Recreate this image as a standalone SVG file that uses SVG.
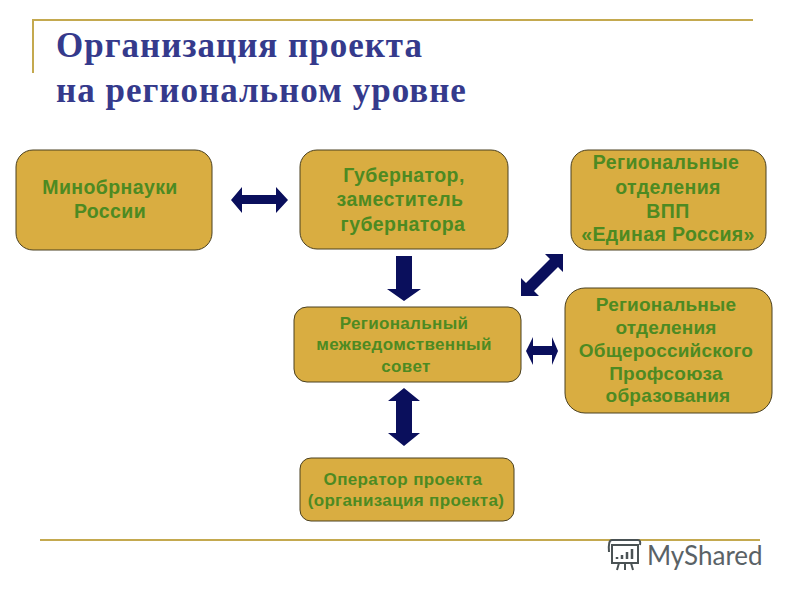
<svg xmlns="http://www.w3.org/2000/svg" width="800" height="600" viewBox="0 0 800 600">
<style>
.box{fill:#d9ad41;stroke:#4a4020;stroke-width:1}
.t{font-family:"Liberation Sans",Arial,sans-serif;font-weight:bold;fill:#4d8a22;text-anchor:middle}
.a{font-size:19.5px;letter-spacing:.4px}
.b{font-size:17px;letter-spacing:.35px}
.c{font-size:19px;letter-spacing:.2px}
.h{font-family:"Liberation Serif","Times New Roman",serif;font-weight:bold;font-size:35px;letter-spacing:1px;fill:#353a8c}
.rule{stroke:#c4a94f;stroke-width:2;fill:none}
.arr{fill:#0a0f5c}
</style>
<rect width="800" height="600" fill="#ffffff"/>
<g id="frame">
<path class="rule" d="M33 73V20H753"/>
<path class="rule" d="M40 540H760"/>
</g>
<g id="title">
<text class="h" x="56" y="57">Организация проекта</text>
<text class="h" x="56" y="102">на региональном уровне</text>
</g>
<g id="connectors">
<polygon class="arr" points="231,200 242,187 242,195 276,195 276,187 288,200 276,213 276,204 242,204 242,213"/>
<polygon class="arr" points="396,256 412,256 412,289 421,289 404,301 387,289 396,289"/>
<polygon class="arr" points="563,254 563,272 558,267 534,291 539,296 521,296 521,278 526,283 550,259 545,254"/>
<polygon class="arr" points="526,351 533,337 533,346 552,346 552,337 558,351 552,365 552,355 533,355 533,365"/>
<polygon class="arr" points="404,388 420,401 412,401 412,433 420,433 404,446 388,433 396,433 396,401 388,401"/>
</g>
<g id="minobrnauki">
<rect class="box" x="16" y="150" width="196" height="100" rx="17"/>
<text class="t a" x="110" y="194">Минобрнауки</text>
<text class="t a" x="110" y="218">России</text>
</g>
<g id="governor">
<rect class="box" x="300" y="150" width="208" height="99" rx="17"/>
<text class="t a" x="404" y="182">Губернатор,</text>
<text class="t a" x="400" y="206">заместитель</text>
<text class="t a" x="403" y="231">губернатора</text>
</g>
<g id="vpp">
<rect class="box" x="571" y="150" width="195" height="100" rx="17"/>
<text class="t a" x="666" y="169">Региональные</text>
<text class="t a" x="668" y="194">отделения</text>
<text class="t a" x="668" y="218">ВПП</text>
<text class="t a" x="668" y="241">«Единая Россия»</text>
</g>
<g id="council">
<rect class="box" x="294" y="307" width="227" height="75" rx="13"/>
<text class="t b" x="404" y="329">Региональный</text>
<text class="t b" x="404" y="350">межведомственный</text>
<text class="t b" x="406" y="372">совет</text>
</g>
<g id="union">
<rect class="box" x="565" y="288" width="207" height="125" rx="20"/>
<text class="t c" x="666" y="311">Региональные</text>
<text class="t c" x="666" y="334">отделения</text>
<text class="t c" x="666" y="357">Общероссийского</text>
<text class="t c" x="666" y="380">Профсоюза</text>
<text class="t c" x="668" y="402">образования</text>
</g>
<g id="operator">
<rect class="box" x="300" y="458" width="214" height="63" rx="11"/>
<text class="t b" x="403" y="485">Оператор проекта</text>
<text class="t b" x="406" y="506">(организация проекта)</text>
</g>
<g id="logo" fill="none" stroke="#4a5254" stroke-width="2">
<path d="M612 545H638V563H612ZM612 540H638Q641 540 640 545M612 540Q608 540 609 552M619 563L617 570M625 563V570M631 563L633 570"/>
<path d="M617 559V557M622 559V555M627 559V552M632 559V549" stroke-width="2.5"/>
<text x="647" y="565" font-family="Lato,'Open Sans',sans-serif" font-size="26" fill="#5a6266" stroke="none">MyShared</text>
</g>
</svg>
